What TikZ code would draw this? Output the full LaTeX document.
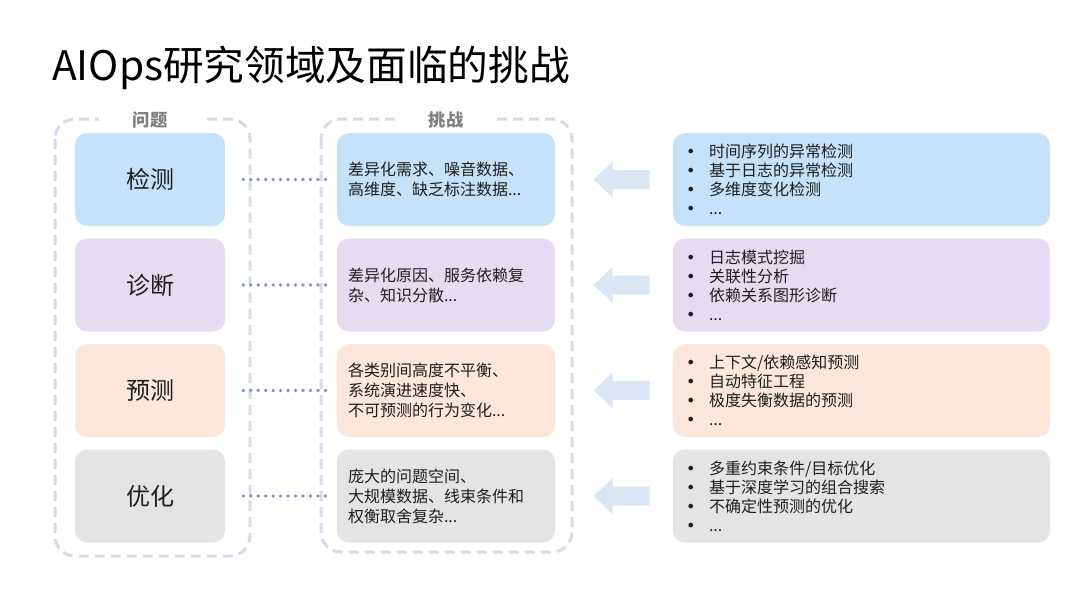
\documentclass[tikz,border=0pt]{standalone}
\usepackage{fontspec}
\setmainfont{Noto Sans CJK SC}
\newfontfamily\symfont{DejaVu Sans}
\usepackage{xcolor}
\usepackage{tikz}
\usetikzlibrary{calc,
                positioning}

\definecolor{jcblue}{HTML}{C5E2FA}
\definecolor{zdpurple}{HTML}{E4DDF1}
\definecolor{ycorange}{HTML}{FCE7DA}
\definecolor{yhgray}{HTML}{E4E4E4}
\definecolor{framec}{HTML}{D5DBEA}
\definecolor{linkc}{HTML}{8293BE}
\definecolor{arrowc}{HTML}{DAE6F3}
\definecolor{txtdark}{HTML}{1E1E1E}
\definecolor{labelc}{HTML}{7F7F7F}

\newcommand{\itemdot}{\makebox[17.25pt][l]{\symfont\fontsize{12}{12}\selectfont •}}

\tikzset{
  area/.style={rectangle, rounded corners=9pt, minimum height=69.75pt,
               inner ysep=0pt, text=txtdark},
  wenti/.style={area, minimum width=112.5pt,
                font=\fontsize{18}{21}\selectfont},
  tiaozhan/.style={area, minimum width=163.5pt, text width=147pt,
                   inner xsep=8.25pt, align=left,
                   font=\fontsize{12}{15}\selectfont},
  fangfa/.style={area, minimum width=282.75pt, text width=263.25pt,
                 inner xsep=9.75pt, align=left,
                 font=\fontsize{12}{14.25}\selectfont},
  frame/.style={draw=framec, line width=2.25pt,
                dash pattern=on 7.5pt off 4.5pt, rounded corners=15pt},
  framelabel/.style={fill=white, inner xsep=25pt, inner ysep=1pt,
                     text=labelc, font=\bfseries\fontsize{13}{15}\selectfont},
  link/.style={draw=linkc, line width=2.8pt, line cap=round,
               dash pattern=on 0pt off 5.6pt,
               shorten <=13.5pt, shorten >=3.75pt},
  blockarrow/.style={fill=arrowc}
}

\begin{document}
\begin{tikzpicture}[x=0.75pt,y=-0.75pt]
\useasboundingbox (0,0) rectangle (1080,608);
\fill[white] (0,0) rectangle (1080,608);

\node[anchor=base west, inner sep=0pt, text=black,
      font=\fontsize{30.5}{36}\selectfont] (title) at (52,80)
      {AIOps研究领域及面临的挑战};

% two dashed frames
\draw[frame] (55,119) rectangle (250,556);
\node[framelabel] (lwenti) at (150,120) {问题};
\draw[frame] (321,119) rectangle (572,552);
\node[framelabel] (ltiaozhan) at (446,120) {挑战};

% rows
\node[wenti, fill=jcblue] (w1) at (150,179.5) {检测};
\node[tiaozhan, fill=jcblue] (t1) at (446,179.5)
  {差异化需求、噪音数据、\\高维度、缺乏标注数据...};
\node[fangfa, fill=jcblue] (f1) at (861.5,179.5)
  {\itemdot 时间序列的异常检测\\\itemdot 基于日志的异常检测\\
   \itemdot 多维度变化检测\\\itemdot ...};

\node[wenti, fill=zdpurple] (w2) at (150,285) {诊断};
\node[tiaozhan, fill=zdpurple] (t2) at (446,285)
  {差异化原因、服务依赖复\\杂、知识分散...};
\node[fangfa, fill=zdpurple] (f2) at (861.5,285)
  {\itemdot 日志模式挖掘\\\itemdot 关联性分析\\
   \itemdot 依赖关系图形诊断\\\itemdot ...};

\node[wenti, fill=ycorange] (w3) at (150,390.5) {预测};
\node[tiaozhan, fill=ycorange] (t3) at (446,390.5)
  {各类别间高度不平衡、\\系统演进速度快、\\不可预测的行为变化...};
\node[fangfa, fill=ycorange] (f3) at (861.5,390.5)
  {\itemdot 上下文/依赖感知预测\\\itemdot 自动特征工程\\
   \itemdot 极度失衡数据的预测\\\itemdot ...};

\node[wenti, fill=yhgray] (w4) at (150,496) {优化};
\node[tiaozhan, fill=yhgray] (t4) at (446,496)
  {庞大的问题空间、\\大规模数据、线束条件和\\权衡取舍复杂...};
\node[fangfa, fill=yhgray] (f4) at (861.5,496)
  {\itemdot 多重约束条件/目标优化\\\itemdot 基于深度学习的组合搜索\\
   \itemdot 不确定性预测的优化\\\itemdot ...};

\foreach \i in {1,...,4}
  \draw[link] (w\i.east) -- (t\i.west);

\foreach \i in {1,...,4}
  \fill[blockarrow, shift={(f\i.west)}] (-79,0) -- (-60,-18) -- (-60,-9.5)
    -- (-23,-9.5) -- (-23,9.5) -- (-60,9.5) -- (-60,18) -- cycle;
\end{tikzpicture}
\end{document}
